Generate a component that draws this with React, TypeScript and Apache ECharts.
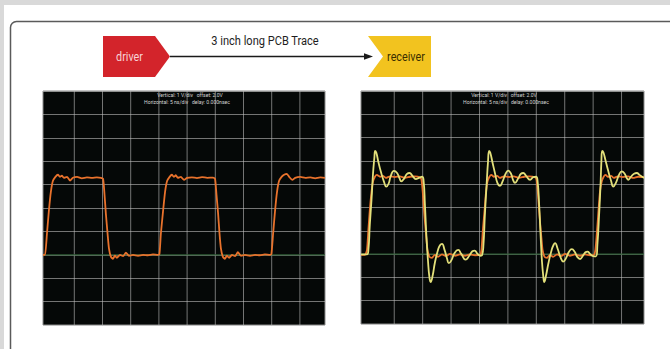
import React, { useEffect, useRef } from "react";
import * as echarts from "echarts";

// Scope 1 (driver output): time in divisions, voltage in volts (1 V/div)
const driverTrace: [number, number][] = [
  [-1.11, 0.0], [-1.04, 0.0], [-0.97, 0.9], [-0.9, 1.9], [-0.83, 2.7], [-0.76, 3.15], [-0.67, 3.33], [-0.58, 3.42],
  [-0.51, 3.33], [-0.44, 3.38], [-0.37, 3.29], [-0.26, 3.33], [-0.15, 3.17], [-0.05, 3.29], [0.1, 3.33], [0.27, 3.27],
  [0.45, 3.31], [0.63, 3.29], [0.8, 3.31], [0.95, 3.29],
  [1.02, 3.25], [1.07, 2.6], [1.12, 1.75], [1.18, 0.9], [1.23, 0.26], [1.3, -0.09], [1.37, -0.17], [1.44, -0.04],
  [1.51, -0.13], [1.62, 0.0], [1.73, -0.06], [1.83, 0.09], [1.94, -0.04], [2.08, 0.0], [2.26, -0.04], [2.44, 0.0],
  [2.61, -0.02], [2.79, 0.02], [2.97, 0.0],
  [3.02, 0.04], [3.07, 0.9], [3.15, 1.9], [3.22, 2.7], [3.29, 3.15], [3.38, 3.33], [3.46, 3.42], [3.53, 3.33],
  [3.6, 3.4], [3.67, 3.29], [3.78, 3.33], [3.89, 3.2], [4.0, 3.29], [4.17, 3.31], [4.35, 3.28], [4.53, 3.32],
  [4.71, 3.29], [4.92, 3.3],
  [4.99, 3.25], [5.04, 2.6], [5.1, 1.75], [5.15, 0.9], [5.2, 0.26], [5.27, -0.09], [5.34, -0.17], [5.41, -0.04],
  [5.49, -0.13], [5.59, 0.0], [5.7, -0.06], [5.8, 0.11], [5.91, -0.04], [6.05, 0.0], [6.23, -0.04], [6.41, 0.0],
  [6.58, -0.02], [6.76, 0.02], [6.94, 0.0],
  [6.99, 0.04], [7.05, 0.9], [7.12, 1.9], [7.19, 2.7], [7.26, 3.15], [7.35, 3.33], [7.44, 3.42], [7.53, 3.46],
  [7.62, 3.33], [7.73, 3.2], [7.83, 3.29], [8.01, 3.33], [8.19, 3.29], [8.37, 3.31], [8.54, 3.27], [8.72, 3.31],
  [8.89, 3.29],
];

// Scope 2 (receiver end): orange = launched signal, yellow = received signal with ringing
const receiverLaunch: [number, number][] = [
  [-1.17, -0.03], [-1.03, -0.03], [-0.96, 0.18], [-0.91, 1.05], [-0.86, 1.9], [-0.8, 2.67], [-0.75, 3.1], [-0.68, 3.32],
  [-0.61, 3.4], [-0.5, 3.32], [-0.4, 3.36], [-0.29, 3.27], [-0.15, 3.34], [0.02, 3.3], [0.2, 3.34], [0.38, 3.27],
  [0.55, 3.32], [0.73, 3.34], [0.9, 3.3],
  [0.96, 3.19], [1.01, 2.55], [1.06, 1.69], [1.12, 0.83], [1.17, 0.18], [1.24, -0.12], [1.33, -0.16], [1.43, -0.03],
  [1.54, -0.12], [1.68, -0.01], [1.82, -0.09], [1.96, 0.01], [2.14, -0.07], [2.31, -0.01], [2.49, -0.07], [2.66, -0.01],
  [2.84, -0.05], [3.02, -0.03],
  [3.07, 0.18], [3.12, 1.05], [3.18, 1.9], [3.23, 2.67], [3.28, 3.1], [3.35, 3.32], [3.42, 3.4], [3.51, 3.32],
  [3.62, 3.36], [3.72, 3.27], [3.86, 3.34], [4.04, 3.3], [4.21, 3.34], [4.39, 3.27], [4.57, 3.32], [4.74, 3.34],
  [4.95, 3.3],
  [5.01, 3.19], [5.06, 2.55], [5.11, 1.69], [5.17, 0.83], [5.22, 0.18], [5.29, -0.12], [5.38, -0.16], [5.48, -0.03],
  [5.59, -0.12], [5.73, -0.01], [5.87, -0.09], [6.01, 0.01], [6.18, -0.07], [6.36, -0.01], [6.54, -0.07], [6.71, -0.01],
  [6.89, -0.05], [7.03, -0.03],
  [7.08, 0.18], [7.14, 1.05], [7.19, 1.9], [7.24, 2.67], [7.3, 3.1], [7.37, 3.32], [7.44, 3.4], [7.52, 3.32],
  [7.63, 3.36], [7.73, 3.27], [7.87, 3.34], [8.05, 3.3], [8.23, 3.34], [8.41, 3.27], [8.58, 3.32], [8.79, 3.3],
];

const receiverRinging: [number, number][] = [
  [-1.17, -0.01], [-0.96, -0.01], [-0.91, 0.18], [-0.86, 1.26], [-0.8, 2.33], [-0.75, 3.4], [-0.7, 4.13], [-0.67, 4.43],
  [-0.63, 4.35], [-0.56, 3.96], [-0.47, 3.53], [-0.36, 3.1], [-0.28, 2.9], [-0.2, 3.02], [-0.12, 3.36], [-0.01, 3.57],
  [0.1, 3.48], [0.18, 3.27], [0.25, 3.12], [0.34, 3.23], [0.45, 3.44], [0.54, 3.48], [0.64, 3.36], [0.76, 3.22],
  [0.87, 3.27], [0.98, 3.32],
  [1.03, 3.19], [1.08, 2.12], [1.13, 0.83], [1.19, -0.33], [1.24, -1.01], [1.28, -1.2], [1.35, -0.93], [1.43, -0.37],
  [1.54, 0.18], [1.61, 0.38], [1.68, 0.44], [1.77, 0.18], [1.86, -0.2], [1.92, -0.39], [2.0, -0.29], [2.13, 0.06],
  [2.25, 0.18], [2.36, 0.01], [2.51, -0.24], [2.64, -0.07], [2.75, 0.12], [2.83, 0.15], [2.93, 0.01], [3.04, -0.07],
  [3.09, -0.05],
  [3.14, 0.4], [3.19, 1.69], [3.25, 2.97], [3.3, 3.96], [3.34, 4.43], [3.38, 4.35], [3.46, 3.92], [3.55, 3.45],
  [3.63, 3.06], [3.72, 2.93], [3.81, 3.11], [3.92, 3.45], [4.01, 3.58], [4.11, 3.45], [4.18, 3.19], [4.25, 3.06],
  [4.36, 3.24], [4.46, 3.45], [4.54, 3.48], [4.64, 3.36], [4.78, 3.19], [4.89, 3.3], [4.99, 3.32],
  [5.04, 3.19], [5.1, 2.12], [5.15, 0.83], [5.2, -0.33], [5.25, -1.01], [5.28, -1.2], [5.34, -0.93], [5.43, -0.37],
  [5.54, 0.18], [5.61, 0.4], [5.66, 0.47], [5.75, 0.23], [5.86, -0.16], [5.95, -0.32], [6.05, -0.16], [6.15, 0.1],
  [6.25, 0.21], [6.35, 0.1], [6.44, -0.12], [6.54, -0.21], [6.64, -0.07], [6.73, 0.08], [6.8, 0.11], [6.89, 0.01],
  [7.0, -0.09], [7.1, -0.1],
  [7.15, 0.4], [7.21, 1.69], [7.26, 2.97], [7.29, 3.96], [7.32, 4.43], [7.36, 4.37], [7.43, 4.05], [7.52, 3.62],
  [7.63, 3.15], [7.71, 2.9], [7.8, 3.06], [7.91, 3.4], [8.01, 3.55], [8.11, 3.45], [8.18, 3.27], [8.24, 3.19],
  [8.33, 3.32], [8.44, 3.45], [8.54, 3.48], [8.63, 3.4], [8.79, 3.27],
];

const title = "3 inch long PCB Trace";
const driverLabel = "driver";
const receiverLabel = "receiver";
const scopeLine1 = "Vertical: 1 V/div   offset: 2.0V";
const scopeLine2 = "Horizontal: 5 ns/div   delay: 0.000nsec";

const VOLT_MIN = -3;
const VOLT_MAX = 7;
const leftRange: [number, number] = [-1.11, 8.89];
const rightRange: [number, number] = [-1.17, 8.79];

const GRID_LINE = "rgba(190,190,190,0.6)";
const ZERO_LINE = "#2f5d36";
const ORANGE = "#e8722c";
const YELLOW = "#e3e07a";
const FONT = "Roboto, sans-serif";

export default function App() {
  const ref = useRef<HTMLDivElement>(null);

  useEffect(() => {
    if (!ref.current) return;
    const chart = echarts.init(ref.current, null, { renderer: "svg" });

    const divTicks = Array.from({ length: 9 }, (_, i) => i);
    const gridSeries: any[] = [];
    [0, 1].forEach((g) => {
      const range = g === 0 ? leftRange : rightRange;
      divTicks.forEach((t) => {
        gridSeries.push({
          type: "line",
          xAxisIndex: g,
          yAxisIndex: g,
          data: [[t, VOLT_MIN], [t, VOLT_MAX]],
          symbol: "none",
          silent: true,
          z: 1,
          lineStyle: { color: GRID_LINE, width: 1 },
        });
      });
      gridSeries.push({
        type: "line",
        xAxisIndex: g,
        yAxisIndex: g,
        data: [[range[0], 0], [range[1], 0]],
        symbol: "none",
        silent: true,
        z: 1,
        lineStyle: { color: ZERO_LINE, width: 1.2 },
      });
    });

    const axisCommon = {
      type: "value",
      axisLine: { show: false },
      axisTick: { show: false },
      axisLabel: { show: false },
    };

    const label = (x: number, y: number, text: string, fill: string, size: number, sx: number, weight = "normal") => ({
      type: "text",
      x,
      y,
      scaleX: sx,
      z: 10,
      silent: true,
      style: {
        text,
        fill,
        fontSize: size,
        fontFamily: FONT,
        fontWeight: weight,
        align: "center",
        verticalAlign: "middle",
        textAlign: "center",
        textVerticalAlign: "middle",
      },
    });

    chart.setOption({
      animation: false,
      backgroundColor: "#ffffff",
      grid: [
        { left: 43, top: 91, width: 282, height: 234, show: true, backgroundColor: "#050807", borderColor: "#8a8a8a", borderWidth: 1 },
        { left: 361, top: 91, width: 283, height: 233, show: true, backgroundColor: "#050807", borderColor: "#8a8a8a", borderWidth: 1 },
      ],
      xAxis: [
        { ...axisCommon, gridIndex: 0, min: leftRange[0], max: leftRange[1], splitLine: { show: false } },
        { ...axisCommon, gridIndex: 1, min: rightRange[0], max: rightRange[1], splitLine: { show: false } },
      ],
      yAxis: [
        { ...axisCommon, gridIndex: 0, min: VOLT_MIN, max: VOLT_MAX, interval: 1, splitLine: { show: true, lineStyle: { color: GRID_LINE, width: 1 } } },
        { ...axisCommon, gridIndex: 1, min: VOLT_MIN, max: VOLT_MAX, interval: 1, splitLine: { show: true, lineStyle: { color: GRID_LINE, width: 1 } } },
      ],
      series: [
        ...gridSeries,
        {
          type: "line",
          xAxisIndex: 0,
          yAxisIndex: 0,
          data: driverTrace,
          symbol: "none",
          z: 3,
          smooth: 0.2,
          lineStyle: { color: ORANGE, width: 1.8 },
        },
        {
          type: "line",
          xAxisIndex: 1,
          yAxisIndex: 1,
          data: receiverLaunch,
          symbol: "none",
          z: 3,
          smooth: 0.2,
          lineStyle: { color: ORANGE, width: 1.8 },
        },
        {
          type: "line",
          xAxisIndex: 1,
          yAxisIndex: 1,
          data: receiverRinging,
          symbol: "none",
          z: 4,
          smooth: 0.5,
          lineStyle: { color: YELLOW, width: 1.8 },
        },
      ],
      graphic: [
        { type: "rect", shape: { x: 0, y: 0, width: 670, height: 5 }, style: { fill: "#d9d9d9" }, silent: true },
        { type: "rect", shape: { x: 0, y: 0, width: 4, height: 349 }, style: { fill: "#d9d9d9" }, silent: true },
        {
          type: "rect",
          shape: { x: 10.5, y: 21.5, width: 700, height: 380, r: 6 },
          style: { fill: "none", stroke: "#5a5a5a", lineWidth: 1.5 },
          silent: true,
        },
        {
          type: "polygon",
          shape: { points: [[103, 36], [155, 36], [170, 56.5], [155, 77], [103, 77]] },
          style: { fill: "#d3242b" },
        },
        label(129.5, 57, driverLabel, "#f7d3d7", 13.5, 0.8),
        {
          type: "line",
          shape: { x1: 170, y1: 56.5, x2: 366, y2: 56.5 },
          style: { stroke: "#1a1a1a", lineWidth: 1.5 },
        },
        {
          type: "polygon",
          shape: { points: [[364, 53.3], [373, 56.5], [364, 59.7]] },
          style: { fill: "#1a1a1a" },
        },
        {
          type: "polygon",
          shape: { points: [[368, 36], [431, 36], [431, 77], [368, 77], [383, 56.5]] },
          style: { fill: "#f2c31f" },
        },
        label(406, 57, receiverLabel, "#3a2f00", 13.5, 0.8),
        label(265, 41, title, "#1e1e1e", 13.5, 0.82),
        label(190, 95, scopeLine1, "#d4d4d4", 6, 0.85),
        label(187, 102.3, scopeLine2, "#d4d4d4", 6, 0.85),
        label(504, 94.5, scopeLine1, "#d4d4d4", 6, 0.85),
        label(506, 101.5, scopeLine2, "#d4d4d4", 6, 0.85),
      ],
    });

    return () => chart.dispose();
  }, []);

  return (
    <div
      ref={ref}
      style={{ position: "fixed", left: 0, top: 0, width: 670, height: 349 }}
    />
  );
}
